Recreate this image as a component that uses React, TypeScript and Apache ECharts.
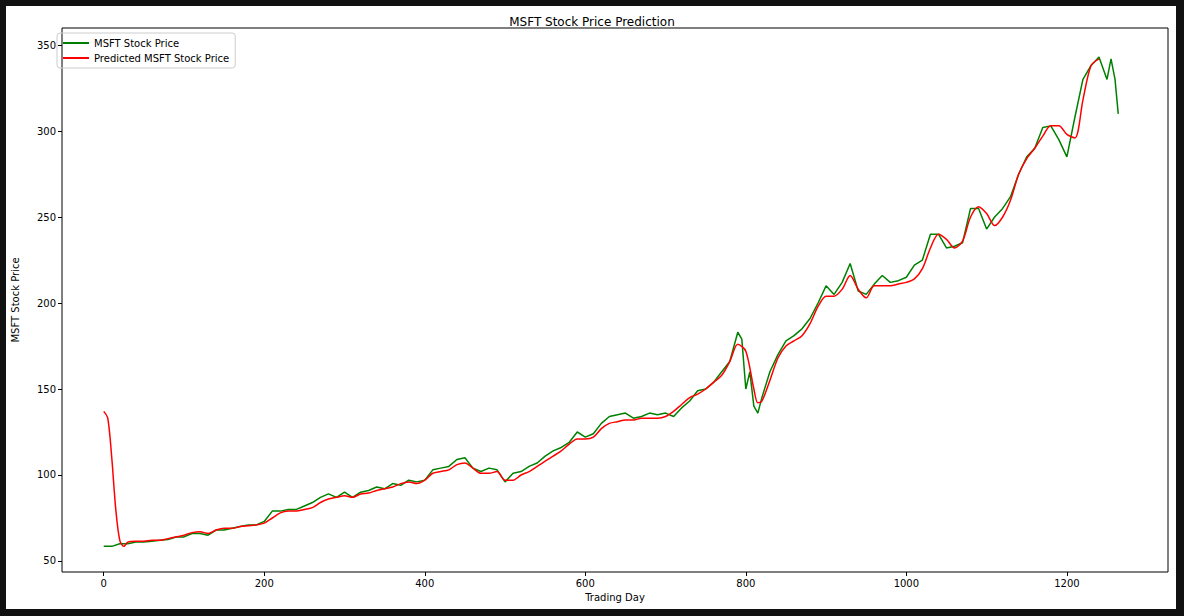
import { useEffect, useRef } from 'react'
import * as echarts from 'echarts'

const actualDays = [0,10,20,30,40,50,60,70,80,90,100,110,120,130,140,150,160,170,180,190,200,210,220,230,240,250,260,270,280,290,300,310,320,330,340,350,360,370,380,390,400,410,420,430,440,450,460,470,480,490,500,510,520,530,540,550,560,570,580,590,600,610,620,630,640,650,660,670,680,690,700,710,720,730,740,750,760,770,780,790,795,800,805,810,815,820,830,840,850,860,870,880,890,900,910,920,930,940,950,960,970,980,990,1000,1010,1020,1030,1040,1050,1060,1070,1080,1090,1100,1110,1120,1130,1140,1150,1160,1170,1180,1190,1200,1210,1220,1230,1240,1250,1255,1260,1264]
const actualPrice = [58.5,58.5,60,60,61,61,61.5,62,62.5,64,64,66,66,65,68,68,69,70,71,71,73,79,79,80,80,82,84,87,89,87,90,87,90,91,93,92,95,94,97,96,97,103,104,105,109,110,104,102,104,103,96,101,102,105,107,111,114,116,119,125,122,124,130,134,135,136,133,134,136,135,136,134,139,143,149,150,154,160,166,183,179,150,160,140,136,145,160,170,178,181,185,191,200,210,205,212,223,207,205,211,216,212,213,215,222,225,240,240,232,233,235,255,255,243,250,255,262,275,285,290,302,303,295,285,308,330,338,343,330,342,330,310]

const predDays = [0,5,10,15,20,25,30,40,50,60,70,80,90,100,110,120,130,140,150,160,170,180,190,200,210,220,230,240,250,260,270,280,290,300,310,320,330,340,350,360,370,380,390,400,410,420,430,440,450,460,470,480,490,500,510,520,530,540,550,560,570,580,590,600,610,620,630,640,650,660,670,680,690,700,710,720,730,740,750,760,770,780,790,800,810,815,820,830,840,850,860,870,880,890,900,910,920,930,940,950,960,970,980,990,1000,1010,1020,1030,1040,1050,1060,1070,1080,1090,1100,1110,1120,1130,1140,1150,1160,1170,1180,1190,1200,1210,1220,1230,1240]
const predPrice = [137,133,110,80,62,58.5,61,61.5,61.5,62,62,63,64,65,66.5,67,66,68,69,69,70,70.5,71,72,75,78,79,79,80,81,84,86,87,88,87,89,89.5,91,92,93,95,96,95,97,101,102,103,106,107,104,101,101,102,97,97,100,102,105,108,111,114,118,121,121,122,127,130,131,132,132,133,133,133,134,137,141,145,147,150,154,158,166,176,172,150,142,143,155,168,175,178,181,188,198,204,204,208,216,208,203,210,210,210,211,212,214,220,232,240,237,232,236,250,256,252,245,250,260,275,284,290,297,303,303,298,296,318,338,342]

const xTicks = [0, 200, 400, 600, 800, 1000, 1200]
const yTicks = [50, 100, 150, 200, 250, 300, 350]

export default function App() {
  const main = useRef<HTMLDivElement>(null)
  useEffect(() => {
    const font = 'DejaVu Sans'
    const option = {
      animation: false,
      backgroundColor: '#111111',
      textStyle: { fontFamily: font },
      graphic: [
        { type: 'rect', z: -10, shape: { x: 6, y: 6, width: 1170, height: 603 }, style: { fill: '#ffffff' } },
      ],
      title: {
        text: 'MSFT Stock Price Prediction',
        left: 'center',
        top: 11,
        textStyle: { fontSize: 12, fontWeight: 'normal', color: '#000', fontFamily: font },
      },
      legend: {
        orient: 'vertical',
        left: 57,
        top: 33,
        padding: [5, 6],
        itemGap: 5,
        itemWidth: 26,
        itemHeight: 2,
        borderColor: '#cccccc',
        borderWidth: 1,
        borderRadius: 3,
        textStyle: { fontSize: 10, color: '#000', fontFamily: font },
        data: [
          { name: 'MSFT Stock Price', icon: 'rect' },
          { name: 'Predicted MSFT Stock Price', icon: 'rect' },
        ],
      },
      grid: { left: 62, right: 16, top: 28, bottom: 44, show: true, borderColor: '#000', borderWidth: 1 },
      xAxis: {
        type: 'value',
        min: -52,
        max: 1326,
        name: 'Trading Day',
        nameLocation: 'middle',
        nameGap: 20,
        nameTextStyle: { fontSize: 10, color: '#000' },
        axisLine: { show: false, onZero: false },
        axisTick: { show: true, length: 4, lineStyle: { color: '#000' }, customValues: xTicks },
        axisLabel: { fontSize: 10, color: '#000', margin: 6, customValues: xTicks, formatter: (v: number) => String(v) },
        splitLine: { show: false },
      },
      yAxis: {
        type: 'value',
        min: 43.6,
        max: 359.9,
        name: 'MSFT Stock Price',
        nameLocation: 'middle',
        nameGap: 42,
        nameTextStyle: { fontSize: 10, color: '#000' },
        axisLine: { show: false, onZero: false },
        axisTick: { show: true, length: 4, lineStyle: { color: '#000' }, customValues: yTicks },
        axisLabel: { fontSize: 10, color: '#000', margin: 6, customValues: yTicks },
        splitLine: { show: false },
      },
      series: [
        {
          name: 'MSFT Stock Price',
          type: 'line',
          showSymbol: false,
          color: '#008000',
          lineStyle: { width: 1.5 },
          data: actualDays.map((d, i) => [d, actualPrice[i]]),
        },
        {
          name: 'Predicted MSFT Stock Price',
          type: 'line',
          showSymbol: false,
          smooth: 0.3,
          color: '#ff0000',
          lineStyle: { width: 1.5 },
          data: predDays.map((d, i) => [d, predPrice[i]]),
        },
      ],
    }
    const chart = echarts.init(main.current, null, { renderer: 'svg' })
    chart.setOption(option)
    return () => chart.dispose()
  }, [])
  return <div ref={main} style={{ position: 'fixed', left: 0, top: 0, width: 1184, height: 616 }} />
}
